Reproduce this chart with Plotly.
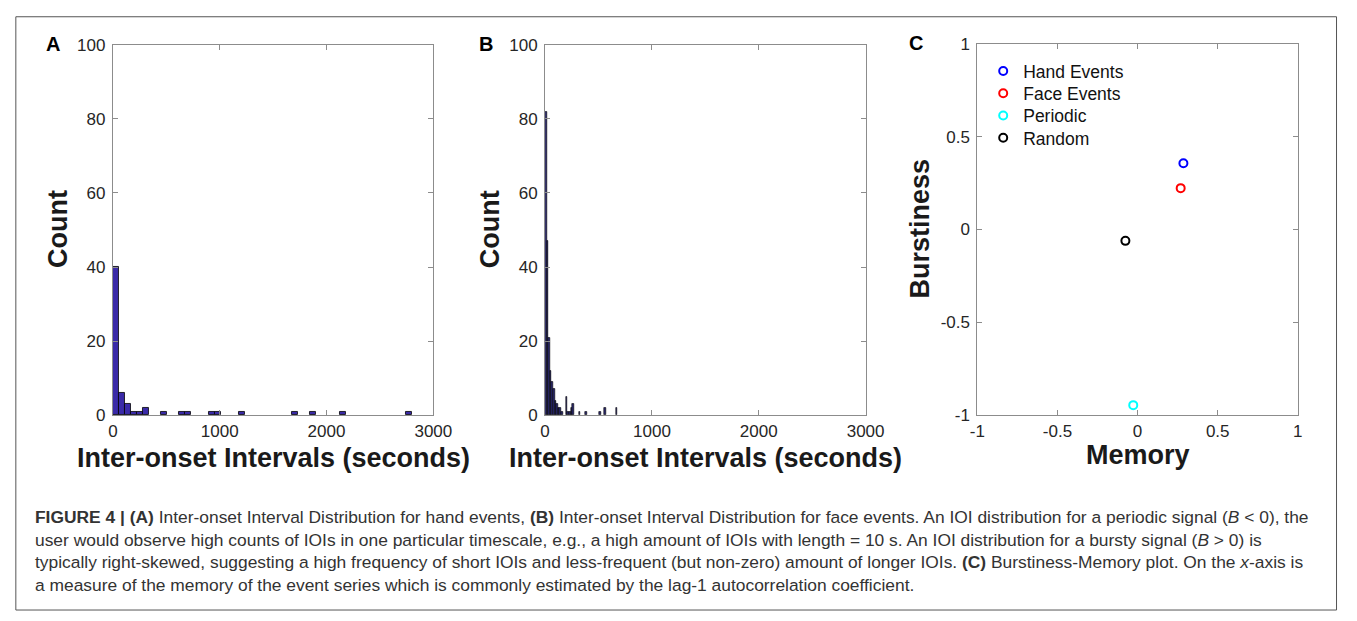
import plotly.graph_objects as go

W, H = 1357, 621

# ---------------- data ----------------
# Panel A: histogram of hand-event IOIs (50 bins, width ~56 s)
a_bin_width = 56
a_bin_left = [0, 56, 112, 168, 224, 280, 448, 616, 672, 896, 952, 1176, 1680, 1848, 2128, 2744]
a_counts = [40, 6, 3, 1, 1, 2, 1, 1, 1, 1, 1, 1, 1, 1, 1, 1]

# Panel B: histogram of face-event IOIs (bin width ~15 s)
b_bin_width = 15
b_bin_left = [0, 15, 30, 45, 60, 75, 90, 105, 120, 135, 150, 195, 210, 225, 240, 255,
              315, 375, 510, 555, 660]
b_counts = [82, 47, 21, 12, 9, 7, 4, 3, 2, 2, 1, 5, 1, 1, 2, 3,
            1, 1, 1, 2, 2]

# Panel C: burstiness-memory plot
c_names = ["Hand Events", "Face Events", "Periodic", "Random"]
c_memory = [0.286, 0.269, -0.027, -0.076]
c_burstiness = [0.357, 0.223, -0.946, -0.061]
c_colors = ["#0000ff", "#ff0000", "#00ffff", "#000000"]

hist_ticks = [0, 1000, 2000, 3000]
count_ticks = [0, 20, 40, 60, 80, 100]
c_ticks = [-1, -0.5, 0, 0.5, 1]
c_ticktext = ["-1", "-0.5", "0", "0.5", "1"]

caption_lines = [
    "<b>FIGURE 4 | (A)</b> Inter-onset Interval Distribution for hand events, <b>(B)</b> Inter-onset Interval Distribution for face events. An IOI distribution for a periodic signal (<i>B</i> &lt; 0), the",
    "user would observe high counts of IOIs in one particular timescale, e.g., a high amount of IOIs with length = 10 s. An IOI distribution for a bursty signal (<i>B</i> &gt; 0) is",
    "typically right-skewed, suggesting a high frequency of short IOIs and less-frequent (but non-zero) amount of longer IOIs. <b>(C)</b> Burstiness-Memory plot. On the <i>x</i>-axis is",
    "a measure of the memory of the event series which is commonly estimated by the lag-1 autocorrelation coefficient.",
]

# ---------------- helpers ----------------
def px(x):
    return x / W

def py(y):
    return 1 - y / H

FONT = "Liberation Sans, Arial, Helvetica, sans-serif"
AXC = "#8c8c8c"
TXT = "#262626"

fig = go.Figure()

fig.add_trace(go.Bar(
    x=[l + a_bin_width / 2 for l in a_bin_left], y=a_counts, width=a_bin_width,
    marker=dict(color="#3a2aa8", line=dict(color="#000000", width=0.8)),
    xaxis="x", yaxis="y", showlegend=False, hoverinfo="skip"))

fig.add_trace(go.Bar(
    x=[l + b_bin_width / 2 for l in b_bin_left], y=b_counts, width=b_bin_width,
    marker=dict(color="#2b2870", line=dict(color="#000000", width=0.6)),
    xaxis="x2", yaxis="y2", showlegend=False, hoverinfo="skip"))

legend_rows = [64, 87, 110, 133]
legend_ids = ["legend", "legend2", "legend3", "legend4"]
for n, mx, by, c, lid in zip(c_names, c_memory, c_burstiness, c_colors, legend_ids):
    fig.add_trace(go.Scatter(
        x=[mx], y=[by], mode="markers", name=n, legend=lid,
        marker=dict(symbol="circle-open", size=8, color=c, line=dict(width=2, color=c)),
        xaxis="x3", yaxis="y3"))

common = dict(showline=True, mirror="ticks", linecolor=AXC, linewidth=1,
              ticks="inside", ticklen=5, tickcolor=AXC, tickwidth=1,
              showgrid=False, zeroline=False, fixedrange=True,
              tickfont=dict(family=FONT, size=17, color=TXT))

ydom = [py(419), py(37)]
layout = dict(
    width=W, height=H, margin=dict(l=0, r=0, t=0, b=0),
    paper_bgcolor="white", plot_bgcolor="white", bargap=0,
    xaxis=dict(domain=[px(107), px(434)], range=[0, 3000], tickvals=hist_ticks, anchor="y", **common),
    yaxis=dict(domain=ydom, range=[0, 100], tickvals=count_ticks, anchor="x", ticklabelstandoff=3, **common),
    xaxis2=dict(domain=[px(548), px(875)], range=[0, 3000], tickvals=hist_ticks, anchor="y2", **common),
    yaxis2=dict(domain=ydom, range=[0, 100], tickvals=count_ticks, anchor="x2", ticklabelstandoff=3, **common),
    xaxis3=dict(domain=[px(989), px(1316)], range=[-1, 1], tickvals=c_ticks, ticktext=c_ticktext, anchor="y3", **common),
    yaxis3=dict(domain=[py(419), py(36)], range=[-1, 1], tickvals=c_ticks, ticktext=c_ticktext, anchor="x3", ticklabelstandoff=3, **common),
)
for lid, row in zip(legend_ids, legend_rows):
    layout[lid] = dict(x=px(995), y=py(row), xanchor="left", yanchor="middle",
                       bgcolor="rgba(0,0,0,0)", borderwidth=0,
                       font=dict(family=FONT, size=17.5, color="#111111"))
fig.update_layout(**layout)

ann = []
title_font = dict(family=FONT, size=27, color="#1a1a1a")
def add_text(text, x, y, font, **kw):
    ann.append(dict(text=text, x=px(x), y=py(y), xref="paper", yref="paper",
                    xanchor="center", yanchor="middle",
                    showarrow=False, font=font, **kw))

add_text("<b>Count</b>", 51, 227, title_font, textangle=-90)
add_text("<b>Count</b>", 492, 227, title_font, textangle=-90)
add_text("<b>Burstiness</b>", 931, 226, title_font, textangle=-90)
add_text("<b>Inter-onset Intervals (seconds)</b>", 270.5, 463, title_font)
add_text("<b>Inter-onset Intervals (seconds)</b>", 711.5, 463, title_font)
add_text("<b>Memory</b>", 1153, 460, title_font)

letter_font = dict(family=FONT, size=20, color="#000000")
add_text("<b>A</b>", 46, 36, letter_font)
add_text("<b>B</b>", 488, 36, letter_font)
add_text("<b>C</b>", 926, 35, letter_font)

ann.append(dict(text="<br>".join(caption_lines), x=px(25), y=py(512),
                xref="paper", yref="paper", xanchor="left", yanchor="top",
                align="left", showarrow=False,
                font=dict(family=FONT, size=17.4, color="#333333")))
fig.update_layout(annotations=ann)

fig.add_shape(type="rect", xref="paper", yref="paper",
              x0=px(8), x1=px(1355.5), y0=py(620), y1=py(8),
              line=dict(color="#555555", width=1), fillcolor="rgba(0,0,0,0)")

fig.write_html("out.html", config=dict(displayModeBar=False),
               post_script="document.body.style.margin='0';document.body.style.overflow='hidden';")
